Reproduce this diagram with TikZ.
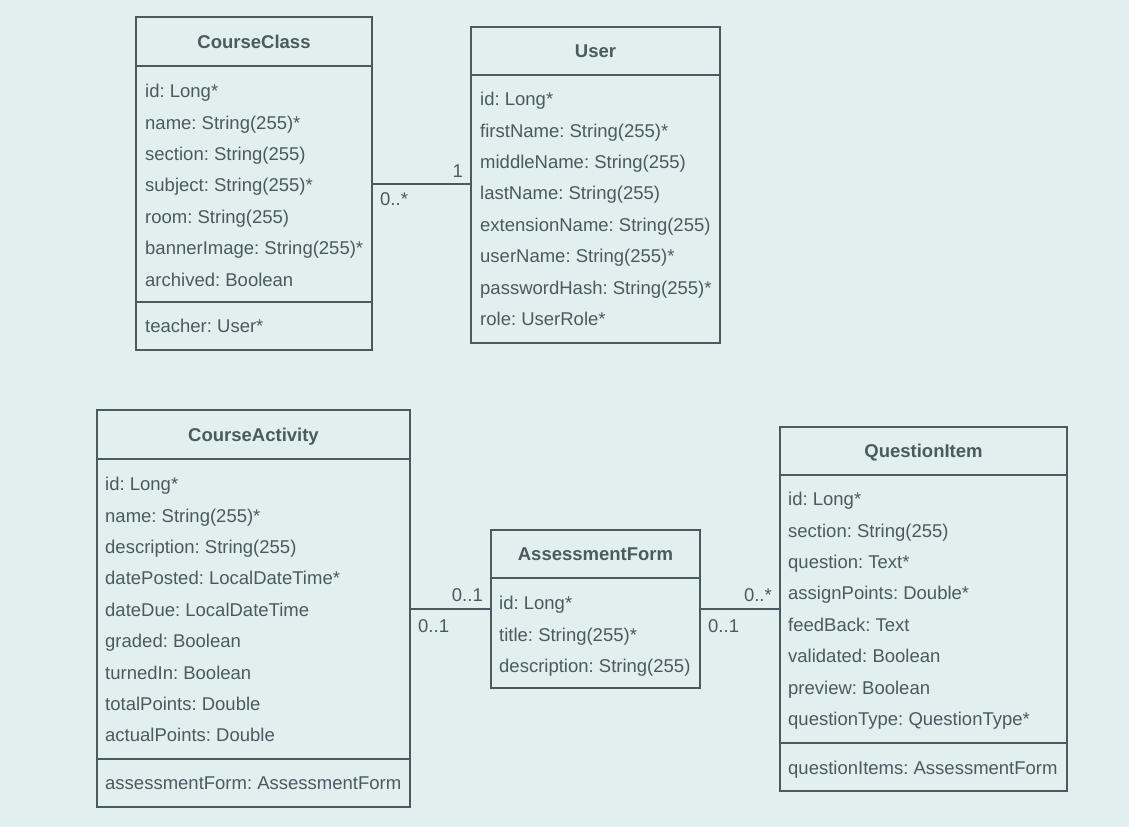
\documentclass[tikz,border=0pt]{standalone}
\usepackage{fontspec}
\setmainfont{Liberation Sans}
\frenchspacing
\definecolor{bgc}{HTML}{E1EFEF}
\definecolor{ink}{HTML}{4A5A5E}
\definecolor{txt}{HTML}{4B5A5E}
\begin{document}
\begin{tikzpicture}[x=1pt,y=-1pt,
  classbox/.style={draw=ink,line width=2pt,rectangle,inner sep=0pt},
  txtbase/.style={inner sep=0pt,text height=13.3pt,text depth=0pt,text=txt,font=\fontsize{18.5}{22}\selectfont},
  attr/.style={txtbase,anchor=west},
  ctitle/.style={txtbase,font=\fontsize{18.5}{22}\selectfont\bfseries},
  mult/.style={txtbase},
  sep/.style={draw=ink,line width=2pt},
  assoc/.style={draw=ink,line width=2pt}]
\fill[bgc] (0,0) rectangle (1129,827);
\useasboundingbox (0,0) rectangle (1129,827);

% CourseClass
\node[classbox,minimum width=236pt,minimum height=333pt] (cc) at (254,183.5) {};
\node[ctitle] (cct) at (254,42) {CourseClass};
\draw[sep] (cc.west |- 0,66) -- (cc.east |- 0,66);
\foreach \t [count=\i] in {id: Long*,name: String(255)*,section: String(255),subject: String(255)*,room: String(255),bannerImage: String(255)*,archived: Boolean}
  \node[attr] (cca\i) at (145,{91+(\i-1)*31.4}) {\t};
\draw[sep] (cc.west |- 0,302) -- (cc.east |- 0,302);
\node[attr] (ccm) at (145,326) {teacher: User*};

% User
\node[classbox,minimum width=249pt,minimum height=316pt] (us) at (595.5,185) {};
\node[ctitle] (ust) at (595.5,51) {User};
\draw[sep] (us.west |- 0,75) -- (us.east |- 0,75);
\foreach \t [count=\i] in {id: Long*,firstName: String(255)*,middleName: String(255),lastName: String(255),extensionName: String(255),userName: String(255)*,passwordHash: String(255)*,role: UserRole*}
  \node[attr] (usa\i) at (480,{99+(\i-1)*31.4}) {\t};

% CourseActivity
\node[classbox,minimum width=313pt,minimum height=397pt] (ca) at (253.5,608.5) {};
\node[ctitle] (cat) at (253.5,435) {CourseActivity};
\draw[sep] (ca.west |- 0,459) -- (ca.east |- 0,459);
\foreach \t [count=\i] in {id: Long*,name: String(255)*,description: String(255),datePosted: LocalDateTime*,dateDue: LocalDateTime,graded: Boolean,turnedIn: Boolean,totalPoints: Double,actualPoints: Double}
  \node[attr] (caa\i) at (105,{484+(\i-1)*31.4}) {\t};
\draw[sep] (ca.west |- 0,759) -- (ca.east |- 0,759);
\node[attr] (cam) at (105,783) {assessmentForm: AssessmentForm};

% AssessmentForm
\node[classbox,minimum width=209pt,minimum height=158pt] (af) at (595.5,609) {};
\node[ctitle] (aft) at (595.5,554) {AssessmentForm};
\draw[sep] (af.west |- 0,578) -- (af.east |- 0,578);
\foreach \t [count=\i] in {id: Long*,title: String(255)*,description: String(255)}
  \node[attr] (afa\i) at (499,{603+(\i-1)*31.4}) {\t};

% QuestionItem
\node[classbox,minimum width=287pt,minimum height=364pt] (qi) at (923.5,609) {};
\node[ctitle] (qit) at (923.5,451) {QuestionItem};
\draw[sep] (qi.west |- 0,475) -- (qi.east |- 0,475);
\foreach \t [count=\i] in {id: Long*,section: String(255),question: Text*,assignPoints: Double*,feedBack: Text,validated: Boolean,preview: Boolean,questionType: QuestionType*}
  \node[attr] (qia\i) at (788,{499+(\i-1)*31.4}) {\t};
\draw[sep] (qi.west |- 0,743) -- (qi.east |- 0,743);
\node[attr] (qim) at (788,768) {questionItems: AssessmentForm};

% Associations
\draw[assoc] (cc.east) -- (cc.east -| us.west);
\node[mult,anchor=east] (m1) at (463,171) {1};
\node[mult,anchor=west] (m2) at (380,199) {0..*};

\draw[assoc] (ca.east) -- (ca.east -| af.west);
\node[mult,anchor=east] (m3) at (483,595) {0..1};
\node[mult,anchor=west] (m4) at (418,626) {0..1};

\draw[assoc] (af.east) -- (af.east -| qi.west);
\node[mult,anchor=east] (m5) at (772,595) {0..*};
\node[mult,anchor=west] (m6) at (708,626) {0..1};
\end{tikzpicture}
\end{document}
